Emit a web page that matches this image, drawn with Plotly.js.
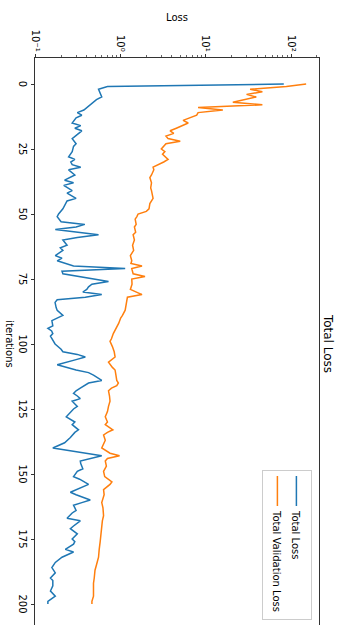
<!DOCTYPE html>
<html><head><meta charset="utf-8">
<script src="https://cdn.plot.ly/plotly-3.0.1.min.js"></script>
<style>
html,body{margin:0;padding:0;overflow:hidden;background:#fff;width:342px;height:625px;}
#chart{position:absolute;left:0;top:0;width:640px;height:342px;transform-origin:0 0;transform:translateX(342px) rotate(90deg);}
</style></head><body><div id="chart"></div>
<script>
// Data
const trainIter = [0,1,2,4,5,6,8,10,11,12,13,15,16,17,18,20,21,23,24,26,28,29,30,31,32,33,35,37,38,39,41,42,44,45,47,48,50,51,53,54,55,56,58,59,60,62,63,64,66,67,68,70,71,72,73,76,77,78,79,80,81,82,83,84,86,87,89,90,91,93,94,95,96,97,99,100,102,103,104,105,106,108,110,111,112,114,115,116,117,118,119,120,121,122,124,125,126,128,130,131,133,134,136,138,140,142,143,145,146,148,149,151,152,154,155,157,158,160,161,162,164,165,167,168,170,171,173,175,176,177,179,180,182,184,186,188,190,191,193,195,197,199,200];
const trainLoss = [82,0.70,0.55,0.59,0.60,0.52,0.44,0.37,0.31,0.35,0.30,0.27,0.34,0.29,0.35,0.29,0.27,0.30,0.28,0.27,0.245,0.29,0.26,0.27,0.34,0.245,0.29,0.22,0.28,0.215,0.27,0.235,0.30,0.235,0.22,0.21,0.187,0.18,0.20,0.38,0.30,0.171,0.55,0.31,0.21,0.235,0.196,0.21,0.171,0.205,0.18,0.28,1.13,0.205,0.21,0.72,0.46,0.42,0.40,0.36,0.60,0.385,0.18,0.17,0.175,0.18,0.21,0.18,0.156,0.16,0.14,0.155,0.16,0.15,0.165,0.17,0.20,0.21,0.31,0.385,0.30,0.18,0.30,0.42,0.48,0.60,0.42,0.38,0.336,0.30,0.28,0.31,0.336,0.27,0.31,0.28,0.26,0.23,0.29,0.27,0.32,0.29,0.257,0.22,0.16,0.40,0.60,0.336,0.34,0.36,0.31,0.28,0.33,0.42,0.36,0.257,0.30,0.44,0.35,0.28,0.30,0.27,0.235,0.336,0.28,0.257,0.31,0.27,0.29,0.28,0.224,0.28,0.205,0.171,0.156,0.171,0.15,0.16,0.16,0.15,0.171,0.14,0.14];
const valIter = [0,1,2,3,4,5,7,8,9,10,11,12,14,15,17,18,19,20,21,22,23,25,26,27,29,30,32,33,35,36,38,40,41,43,44,46,48,49,50,51,52,54,55,57,58,60,62,64,66,68,69,70,71,73,74,75,77,79,81,82,84,86,87,89,90,92,94,96,98,99,101,103,105,106,107,109,110,112,114,115,116,117,118,120,122,124,126,128,130,131,133,134,135,137,139,140,142,143,144,145,147,149,151,153,154,156,158,161,163,166,168,171,174,176,179,182,185,187,190,192,195,197,199,200];
const valLoss = [150,88,33,46,30,39,20.7,46,8.1,15.8,8.1,7.8,5.4,6.2,4.5,3.8,4.2,3.4,3.6,5.0,3.4,3.0,3.3,3.1,3.6,3.2,2.4,2.45,2.3,2.2,2.3,2.25,2.3,2.35,2.4,2.2,2.15,2.0,1.6,1.55,1.48,1.52,1.45,1.5,1.4,1.45,1.38,1.42,1.3,1.35,1.32,1.78,1.35,1.4,1.93,1.35,1.36,1.3,1.78,1.2,1.18,1.15,1.13,1.05,1.0,0.95,0.88,0.82,0.78,0.75,0.80,0.84,0.86,0.78,0.72,0.80,0.86,0.88,0.90,0.94,0.90,0.78,0.72,0.74,0.75,0.72,0.70,0.66,0.70,0.66,0.81,0.70,0.63,0.66,0.62,0.60,0.75,0.97,0.70,0.66,0.68,0.63,0.65,0.79,0.75,0.63,0.64,0.60,0.62,0.63,0.61,0.60,0.59,0.575,0.56,0.55,0.52,0.50,0.49,0.48,0.48,0.48,0.46,0.46];
const seriesNames = ["Total Loss", "Total Validation Loss"];
const iterTicks = [0,25,50,75,100,125,150,175,200];
const lossTicks = [0.1,1,10,100];
const lossTickText = ["10\u207B\u00B9","10\u2070","10\u00B9","10\u00B2"];
const lossMinor = [0.2,0.3,0.4,0.5,0.6,0.7,0.8,0.9,2,3,4,5,6,7,8,9,20,30,40,50,60,70,80,90,200];

const FONT = "DejaVu Sans, sans-serif";
const traces = [
  {x: trainIter, y: trainLoss, name: seriesNames[0], type: 'scatter', mode: 'lines',
   line: {color: '#1f77b4', width: 1.5}},
  {x: valIter, y: valLoss, name: seriesNames[1], type: 'scatter', mode: 'lines',
   line: {color: '#ff7f0e', width: 1.5}}
];
const layout = {
  width: 640, height: 342,
  margin: {l: 58, r: 10, t: 23, b: 35, pad: 0},
  paper_bgcolor: 'white', plot_bgcolor: 'white',
  font: {family: FONT, size: 10, color: 'black'},
  title: {text: 'Total Loss', font: {family: FONT, size: 12, color: 'black'},
          x: 0.5, xref: 'paper', y: 1 - 14/342, yref: 'container', yanchor: 'middle'},
  showlegend: true,
  legend: {x: 0.9825, xanchor: 'right', y: 0.975, yanchor: 'top',
           bgcolor: 'rgba(255,255,255,0.8)', bordercolor: '#cccccc', borderwidth: 1,
           font: {family: FONT, size: 10, color: 'black'}, itemwidth: 30, tracegroupgap: 0},
  xaxis: {range: [-10, 210], tickmode: 'array', tickvals: iterTicks,
          ticks: 'outside', ticklen: 3.5, tickwidth: 0.8, tickcolor: 'black',
          showline: true, linecolor: 'black', linewidth: 0.8, mirror: true,
          showgrid: false, zeroline: false,
          tickfont: {family: FONT, size: 10, color: 'black'},
          title: {text: 'iterations', font: {family: FONT, size: 10, color: 'black'}, standoff: 4}},
  yaxis: {type: 'log', range: [-1.005, 2.327], tickmode: 'array', tickvals: lossTicks, ticktext: lossTickText,
          ticks: 'outside', ticklen: 3.5, tickwidth: 0.8, tickcolor: 'black',
          minor: {tickmode: 'array', tickvals: lossMinor, ticks: 'outside', ticklen: 2, tickwidth: 0.6, tickcolor: 'black', showgrid: false},
          showline: true, linecolor: 'black', linewidth: 0.8, mirror: true,
          showgrid: false, zeroline: false,
          tickfont: {family: FONT, size: 10, color: 'black'},
          title: {text: 'Loss', font: {family: FONT, size: 10, color: 'black'}, standoff: 6}}
};
Plotly.newPlot('chart', traces, layout, {displayModeBar: false, staticPlot: true});
</script></body></html>
